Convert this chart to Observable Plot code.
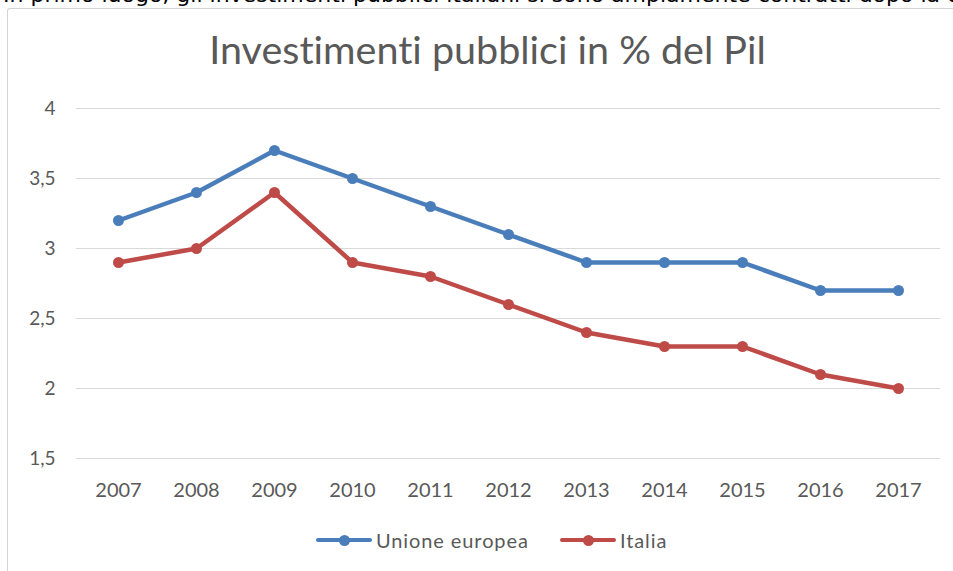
<!DOCTYPE html>
<html>
<head>
<meta charset="utf-8">
<script src="https://cdn.jsdelivr.net/npm/d3@7"></script>
<script src="https://cdn.jsdelivr.net/npm/@observablehq/plot@0.6"></script>
<style>
  html, body { margin: 0; padding: 0; background: #fff; }
  #wrap { position: relative; width: 953px; height: 571px; overflow: hidden; }
  #top { position: absolute; left: 3px; top: -18px; white-space: nowrap; font-family: "DejaVu Sans", sans-serif; font-size: 22px; color: #000; }
  #box { position: absolute; left: 7px; top: 8px; width: 960px; height: 600px; border-left: 1.5px solid #d4d4d4; border-top: 1.5px solid #d4d4d4; border-radius: 3px 0 0 0; }
  #title { position: absolute; left: 0; width: 975px; top: 25px; text-align: center; font-family: Lato, sans-serif; font-size: 39.5px; color: #595959; font-variant-ligatures: none; }
  #chart { position: absolute; left: 0; top: 0; }
  #legend { position: absolute; top: 528px; left: 0; width: 953px; font-family: Lato, sans-serif; font-size: 20px; letter-spacing: 0.9px; color: #595959; }
  .item { position: absolute; display: flex; align-items: center; }
  .sw { position: relative; width: 56px; height: 4px; margin-right: 4px; }
  .sw i { position: absolute; left: 23px; top: -3.5px; width: 11px; height: 11px; border-radius: 50%; }
</style>
</head>
<body>
<div id="wrap">
  <div id="top">In primo luogo, gli investimenti pubblici italiani si sono ampiamente contratti dopo la crisi</div>
  <div id="box"></div>
  <div id="chart"></div>
  <div id="title">Investimenti pubblici in % del Pil</div>
  <div id="legend"></div>
</div>
<script>
const years = ["2007","2008","2009","2010","2011","2012","2013","2014","2015","2016","2017"];
const ueValues = [3.2, 3.4, 3.7, 3.5, 3.3, 3.1, 2.9, 2.9, 2.9, 2.7, 2.7];
const itValues = [2.9, 3.0, 3.4, 2.9, 2.8, 2.6, 2.4, 2.3, 2.3, 2.1, 2.0];
const seriesNames = ["Unione europea", "Italia"];
const seriesColors = ["#4A7EBB", "#BE4B48"];
const yTicks = [1.5, 2, 2.5, 3, 3.5, 4];

const data = [
  ...years.map((y, i) => ({year: y, value: ueValues[i], series: seriesNames[0]})),
  ...years.map((y, i) => ({year: y, value: itValues[i], series: seriesNames[1]}))
];

const fmt = v => String(v).replace(".", ",");

const chart = Plot.plot({
  width: 953,
  height: 571,
  marginLeft: 76,
  marginRight: 13,
  marginTop: 108,
  marginBottom: 113,
  style: {background: "transparent", fontFamily: "Lato, sans-serif", fontSize: "19px", color: "#595959", overflow: "visible"},
  x: {type: "point", domain: years, padding: 0.5, label: null},
  y: {domain: [1.5, 4], ticks: yTicks, label: null},
  color: {domain: seriesNames, range: seriesColors},
  marks: [
    Plot.gridY(yTicks, {stroke: "#d9d9d9", strokeOpacity: 1, strokeWidth: 1.2}),
    Plot.axisY(yTicks, {tickSize: 0, tickPadding: 21, tickFormat: fmt, fontSize: 19, fill: "#595959", label: null}),
    Plot.axisX({tickSize: 0, tickPadding: 24, fontSize: 20, fill: "#595959", label: null}),
    Plot.line(data, {x: "year", y: "value", z: "series", stroke: "series", strokeWidth: 4.5, strokeLinejoin: "round", strokeLinecap: "round"}),
    Plot.dot(data, {x: "year", y: "value", fill: "series", r: 5.5})
  ]
});
document.getElementById("chart").appendChild(chart);

const legend = document.getElementById("legend");
const lefts = [316, 560];
seriesNames.forEach((name, i) => {
  const it = document.createElement("div");
  it.className = "item";
  it.style.left = lefts[i] + "px";
  it.innerHTML = `<div class="sw" style="background:${seriesColors[i]};border-radius:2px"><i style="background:${seriesColors[i]}"></i></div><span>${name}</span>`;
  legend.appendChild(it);
});
</script>
</body>
</html>
